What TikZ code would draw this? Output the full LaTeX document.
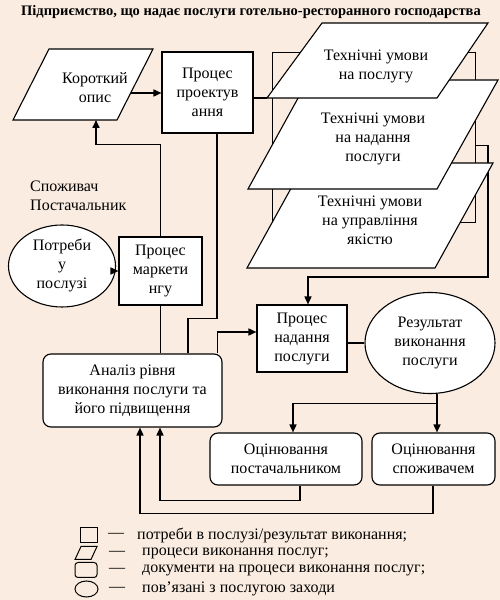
\documentclass[tikz,border=0pt]{standalone}
\usepackage{fontspec}
\setmainfont{Liberation Serif}
\usetikzlibrary{arrows.meta,positioning,shapes.geometric,calc}
\definecolor{Paper}{HTML}{FAECE0}
\newcommand{\boxfont}{\fontsize{16}{19}\selectfont}
\newcommand{\keyfont}{\fontsize{16}{18}\selectfont}

\begin{document}
\begin{tikzpicture}[
  x=1pt,y=1pt,
  proc/.style={draw,line width=1.1pt,fill=white,align=center,font=\boxfont,inner sep=1pt},
  rbox/.style={proc,rounded corners=8pt},
  docline/.style={draw,line width=1.1pt,fill=white,line join=miter},
  doctext/.style={align=center,font=\boxfont,inner sep=1pt},
  oval/.style={ellipse,draw,line width=1.1pt,fill=white,align=center,font=\boxfont,inner sep=0pt},
  back/.style={draw,line width=0.8pt},
  link/.style={line width=1.6pt},
  arrow/.style={link,-{Triangle[length=8pt,width=7pt]}},
  key/.style={font=\keyfont,anchor=west,inner sep=0pt}
]
\fill[Paper] (0,0) rectangle (500,600);
\useasboundingbox (0,0) rectangle (500,600);

\node[font=\bfseries\fontsize{14.5}{16}\selectfont] (title) at (251,588) {Підприємство, що надає послуги готельно-ресторанного господарства};

\node[back,minimum width=203,minimum height=170] (backA) at (373.5,463) {};
\coordinate (bk) at (488,455);
\coordinate (bkb) at (488,323);

\path[docline] (13,480) -- (117,480) -- (153,551) -- (49,551) -- cycle;
\node[doctext] (short) at (95,512) {Короткий\\опис};
\coordinate (shortR) at (131,507);
\coordinate (shortB) at (96,480);

\node[proc,minimum width=91,minimum height=81] (proj) at (207.5,507.5) {Процес\\проектув\\ання};
\node[proc,minimum width=83,minimum height=68] (mark) at (160.5,329) {Процес\\маркети\\нгу};
\node[oval,minimum width=107,minimum height=82] (need) at (62,334) {Потреби\\у\\послузі};
\node[font=\boxfont,align=left,anchor=west,inner sep=0pt] (who) at (30,404) {Споживач\\Постачальник};
\node[rbox,minimum width=179,minimum height=73] (an) at (132.5,209.5) {Аналіз рівня\\виконання послуги та\\його підвищення};
\node[proc,minimum width=90,minimum height=67] (nad) at (302,261.5) {Процес\\надання\\послуги};
\node[oval,minimum width=130,minimum height=101] (res) at (430,257) {Результат\\виконання\\послуги};
\node[rbox,minimum width=152,minimum height=52] (evp) at (286,141) {Оцінювання\\постачальником};
\node[rbox,minimum width=123,minimum height=52] (evs) at (433.5,141) {Оцінювання\\споживачем};

\draw[back] (backA.east |- bk) -- (bk);
\draw[arrow] (bk) -- (bkb) -| ([xshift=6pt]nad.north);

\path[docline] (247,332) -- (435,332) -- (493,437) -- (305,437) -- cycle;
\node[doctext] (par3) at (370,380) {Технічні умови\\на управління\\якістю};
\path[docline] (248,411) -- (437,411) -- (498,520) -- (308,520) -- cycle;
\node[doctext] (par2) at (373,461) {Технічні умови\\на надання\\послуги};
\path[docline] (267,502) -- (437,502) -- (488,577) -- (322,577) -- cycle;
\node[doctext] (par1) at (376,534) {Технічні умови\\на послугу};
\coordinate (par1BL) at (267,502);

\draw[arrow] (shortR) -- (shortR -| proj.west);
\draw[link] (proj.east |- par1BL) -- (par1BL);
\draw[arrow] (mark.north) -- ++(0,92) -| (shortB);
\draw[arrow] (need.east |- mark.west) -- (mark.west);
\draw[link] ([xshift=9.5pt]proj.south) -- ++(0,-185) -| ([xshift=55.5pt]an.north);
\draw[link] (mark.south) -- (mark.south |- an.north);
\draw[arrow] ([xshift=-5pt]an.north east) |- ([yshift=6.5pt]nad.west);
\draw[link] (nad.east |- res.west) -- (res.west);
\draw[arrow] ([xshift=7pt]res.south) -- ++(0,-9.5) -| ([xshift=7pt]evp.north);
\draw[arrow] ([xshift=7pt]res.south) -- ([xshift=7pt]res.south |- evs.north);
\draw[arrow] ([xshift=14pt]evp.south) -- ++(0,-15) -| ([xshift=27.5pt]an.south);
\draw[arrow] ([xshift=-0.5pt]evs.south) -- ++(0,-28) -| ([xshift=7.5pt]an.south);

\node[draw,line width=1pt,minimum width=17,minimum height=15,inner sep=0pt] (k1) at (88.5,64.5) {};
\draw[line width=1pt] (75,40.5) -- (91,40.5) -- (97,53.5) -- (81,53.5) -- cycle;
\node[draw,line width=1pt,rounded corners=3pt,minimum width=22,minimum height=15,inner sep=0pt] (k3) at (86,30) {};
\node[ellipse,draw,line width=1pt,minimum width=23,minimum height=16,inner sep=0pt] (k4) at (86.5,11) {};
\node[key] (d1) at (108,64.5) {—};
\node[key] (d2) at (109,47) {—};
\node[key] (d3) at (109,30) {—};
\node[key] (d4) at (109,11) {—};
\node[key] (t1) at (137,64.5) {потреби в послузі/результат виконання;};
\node[key] (t2) at (142,47) {процеси виконання послуг;};
\node[key] (t3) at (142,30) {документи на процеси виконання послуг;};
\node[key] (t4) at (142,11) {пов'язані з послугою заходи};
\end{tikzpicture}
\end{document}
